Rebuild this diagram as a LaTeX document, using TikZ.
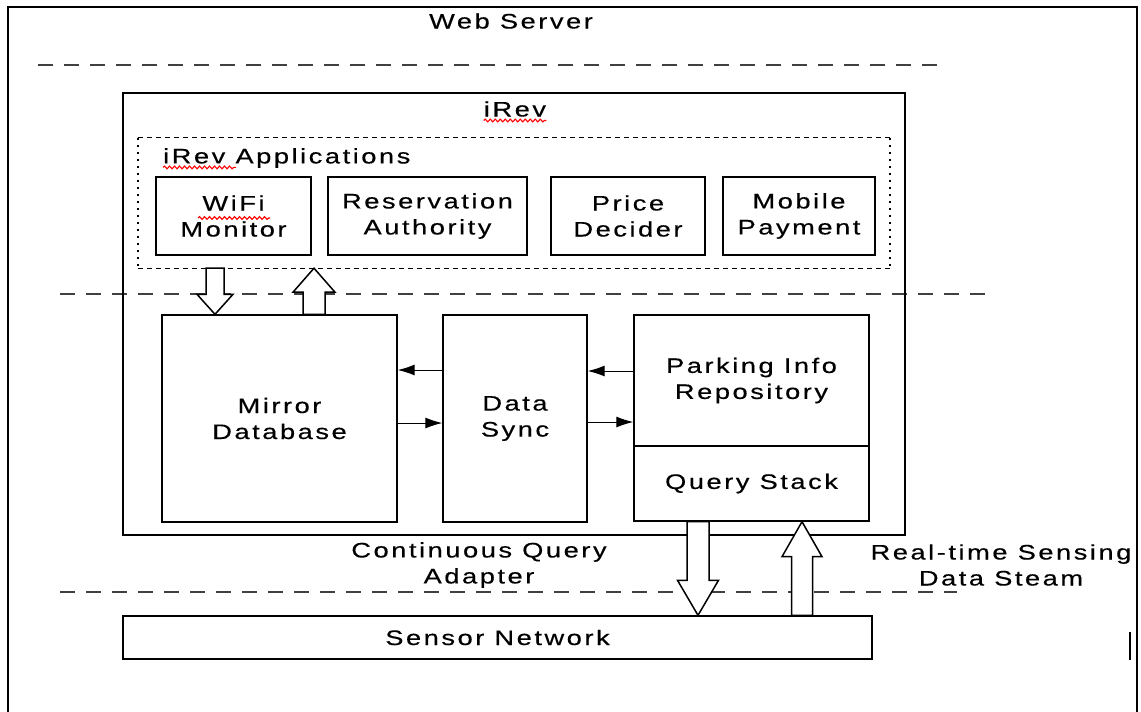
\documentclass[tikz,border=0pt]{standalone}
\usepackage{fontspec}
\setmainfont{Liberation Sans}
\newfontfamily\diagfont[LetterSpace=12,FakeStretch=1.3,FakeBold=0.4]{Liberation Sans}
\usetikzlibrary{arrows.meta,calc,decorations.pathmorphing}

% hollow block arrow: from, to, shaft half-width, head half-width, head length
\newcommand\hollowarrow[5]{%
  \draw[hollow] let \p1=#1, \p2=#2, \n1={ifthenelse(\y2>\y1,1,-1)} in
    ({\x1-#3pt},\y1) -- ({\x1-#3pt},{\y2-\n1*#5pt}) -- ({\x1-#4pt},{\y2-\n1*#5pt})
    -- (\x1,\y2) -- ({\x1+#4pt},{\y2-\n1*#5pt}) -- ({\x1+#3pt},{\y2-\n1*#5pt})
    -- ({\x1+#3pt},\y1) -- cycle;}

\begin{document}
\begin{tikzpicture}[x=1pt,y=-1pt,
  every node/.style={font=\diagfont\fontsize{21}{26}\selectfont, inner sep=0pt, align=center},
  block/.style={draw, line width=1.4pt},
  sep/.style={draw=black!75, line width=1.6pt, dash pattern=on 15pt off 11pt},
  appsh/.style={line width=1.3pt, dash pattern=on 5pt off 4pt},
  appsv/.style={line width=1.6pt, dash pattern=on 2.5pt off 4.5pt},
  flow/.style={line width=1pt, -{Latex[length=17pt,width=11pt]}},
  hollow/.style={draw, fill=white, line width=1.5pt, line join=miter},
  squig/.style={draw=red, line width=1.1pt, decorate,
    decoration={snake, amplitude=1.4pt, segment length=5pt}}]
\useasboundingbox (0,0) rectangle (1141,712);

% frame of the page
\draw[line width=1.6pt] (8,720) -- (8,7) -- (1137,7) -- (1137,720);
\draw[line width=1.5pt] (1130,632) -- (1130,660);

% tier separators
\node (web) at (511,21) {Web Server};
\coordinate (s1a) at (38,65);  \coordinate (s1b) at (940,65);
\coordinate (s2a) at (60,294); \coordinate (s2b) at (985,294);
\coordinate (s3a) at (60,592); \coordinate (s3b) at (957,592);
\draw[sep] (s1a) -- (s1b);
\draw[sep] (s2a) -- (s2b);
\draw[sep] (s3a) -- (s3b);

% iRev container
\node[block, minimum width=782, minimum height=442] (irev) at (514,314) {};
\node (irevlbl) at (515,109) {iRev};
\draw[squig] ([yshift=-4pt]irevlbl.base west) -- ([yshift=-4pt]irevlbl.base east);

% applications group
\node[minimum width=752, minimum height=130] (apps) at (514,203) {};
\draw[appsh] (apps.north west) -- (apps.north east);
\draw[appsh] (apps.south west) -- (apps.south east);
\draw[appsv] (apps.north west) -- (apps.south west);
\draw[appsv] (apps.north east) -- (apps.south east);
\node[anchor=west] (appslbl) at (163,158) {iRev Applications};
\draw[squig] ([yshift=-4pt]appslbl.base west) -- ++(73,0);

\node[block, minimum width=155, minimum height=78] (wifi)  at (233.5,216) {WiFi\\Monitor};
\node[block, minimum width=199, minimum height=78] (resv)  at (427.5,216) {Reservation\\Authority};
\node[block, minimum width=154, minimum height=78] (price) at (628,216)   {Price\\Decider};
\node[block, minimum width=152, minimum height=78] (mobile) at (799,216)  {Mobile\\Payment};
\draw[squig] ([shift={(-35.5pt,-2pt)}]wifi.center) -- ++(72,0);

% data layer
\node[block, minimum width=235, minimum height=207] (mirror) at (279.5,418.5) {Mirror\\Database};
\node[block, minimum width=144, minimum height=207] (sync)   at (515,418.5)   {Data\\Sync};
\node[block, minimum width=235, minimum height=131] (park)   at (751.5,380.5) {Parking Info\\Repository};
\node[block, minimum width=235, minimum height=75]  (query)  at (751.5,483.5) {Query Stack};

\draw[flow] ([yshift=48.5pt]sync.west) -- ([yshift=48.5pt]mirror.east);
\draw[flow] ([yshift=-4.5pt]mirror.east) -- ([yshift=-4.5pt]sync.west);
\draw[flow] ([yshift=9.5pt]park.west) -- ([yshift=47.5pt]sync.east);
\draw[flow] ([yshift=-3.5pt]sync.east) -- ([yshift=-41.5pt]park.west);

% sensor layer
\node[block, minimum width=749, minimum height=43] (sensor) at (497.5,637.5) {Sensor Network};
\node (cqa) at (479,565) {Continuous Query\\Adapter};
\node (rts) at (1001,565) {Real-time Sensing\\Data Steam};

% block arrows between layers
\hollowarrow{(215,0 |- apps.south)}{(215,0 |- mirror.north)}{9}{18}{20}
\hollowarrow{(314,0 |- mirror.north)}{(314,0 |- apps.south)}{11}{21}{24}
\hollowarrow{(698,0 |- query.south)}{(698,0 |- sensor.north)}{11}{20.5}{35}
\hollowarrow{(802,0 |- sensor.north)}{(802,0 |- query.south)}{10.5}{20}{35}
\end{tikzpicture}
\end{document}
